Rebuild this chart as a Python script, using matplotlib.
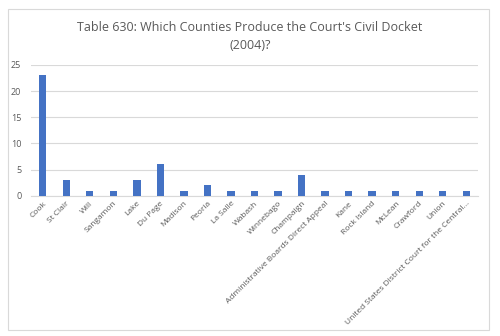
import matplotlib
matplotlib.use("Agg")
import matplotlib.pyplot as plt
from matplotlib.patches import Rectangle

# Counties and number of civil docket cases
counties = [
    "Cook", "St Clair", "Will", "Sangamon", "Lake", "Du Page", "Madison",
    "Peoria", "La Salle", "Wabash", "Winnebago", "Champaign",
    "Administrative Boards Direct Appeal", "Kane", "Rock Island", "McLean",
    "Crawford", "Union", "United States District Court for the Central...",
]
cases = [23, 3, 1, 1, 3, 6, 1, 2, 1, 1, 1, 4, 1, 1, 1, 1, 1, 1, 1]
yticks = [0, 5, 10, 15, 20, 25]

plt.rcParams["font.family"] = ["Open Sans", "DejaVu Sans"]

fig = plt.figure(figsize=(5, 3.36), dpi=100)
ax = fig.add_axes([0.062, 0.417, 0.894, 0.39])

# light frame around the whole chart
fig.patches.append(Rectangle((0.015, 0.018), 0.963, 0.955, transform=fig.transFigure,
                             fill=False, edgecolor="#d9d9d9", linewidth=0.8))

x = range(len(counties))
ax.bar(x, cases, width=0.31, color="#4472c4", zorder=3)

ax.set_xlim(-0.5, len(counties) - 0.5)
ax.set_ylim(0, 25)
ax.set_yticks(yticks)
ax.set_yticklabels([str(t) for t in yticks], fontsize=6.5, color="#595959")
ax.set_xticks(list(x))
ax.set_xticklabels(counties, rotation=45, ha="right", rotation_mode="anchor",
                   fontsize=6, color="#595959")
ax.tick_params(axis="both", length=0, pad=3)
ax.tick_params(axis="y", pad=7)
ax.grid(axis="y", color="#d9d9d9", linewidth=0.8, zorder=0)
for side in ["top", "right", "left"]:
    ax.spines[side].set_visible(False)
ax.spines["bottom"].set_color("#d9d9d9")
ax.spines["bottom"].set_linewidth(0.8)

fig.text(0.5, 0.892, "Table 630: Which Counties Produce the Court's Civil Docket\n(2004)?",
         ha="center", va="center", fontsize=9, color="#595959", linespacing=1.5)

fig.savefig("out.png", dpi=100)
